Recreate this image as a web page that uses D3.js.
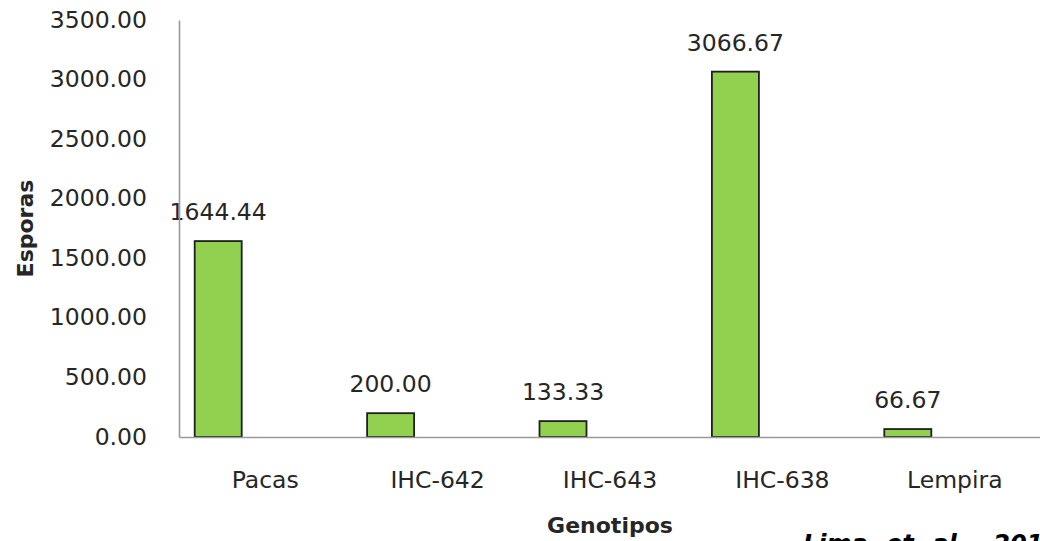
<!DOCTYPE html>
<html>
<head>
<meta charset="utf-8">
<script src="https://cdn.jsdelivr.net/npm/d3@7"></script>
<style>
  html, body { margin: 0; padding: 0; background: #ffffff; }
  svg { display: block; font-family: "DejaVu Sans", Verdana, sans-serif; }
</style>
</head>
<body>
<svg id="chart" width="1040" height="541"></svg>
<script>
// Spore counts per coffee genotype
const genotypes = ["Pacas", "IHC-642", "IHC-643", "IHC-638", "Lempira"];
const spores = [1644.44, 200.00, 133.33, 3066.67, 66.67];
const yTicks = [0, 500, 1000, 1500, 2000, 2500, 3000, 3500];
const yTitle = "Esporas";
const xTitle = "Genotipos";
const sourceNote = "Lima et al., 201";

const data = genotypes.map((g, i) => ({ genotype: g, value: spores[i] }));

const svg = d3.select("#chart");
const plotLeft = 179, plotRight = 1041, plotTop = 20, plotBottom = 437;

const x = d3.scaleBand().domain(genotypes).range([plotLeft, plotRight]).paddingInner(0).paddingOuter(0);
// each category holds three bar slots; only the first one is filled
const slot = d3.scaleBand().domain([0, 1, 2]).range([0, x.bandwidth()]).paddingInner(0).paddingOuter(0.334);
const y = d3.scaleLinear().domain([0, 3500]).range([plotBottom, plotTop]);

const textColor = "#262626";

// bars
svg.append("g").selectAll("rect")
  .data(data)
  .join("rect")
  .attr("x", d => x(d.genotype) + slot(0))
  .attr("y", d => y(d.value))
  .attr("width", slot.bandwidth())
  .attr("height", d => y(0) - y(d.value))
  .attr("fill", "#92D050")
  .attr("stroke", "#1f1f1f")
  .attr("stroke-width", 1.8);

// value labels
svg.append("g").selectAll("text")
  .data(data)
  .join("text")
  .attr("x", d => x(d.genotype) + slot(0) + slot.bandwidth() / 2)
  .attr("y", d => y(d.value) - 21)
  .attr("text-anchor", "middle")
  .attr("font-size", 23.5)
  .attr("fill", textColor)
  .text(d => d.value.toFixed(2));

// y axis
const yAxis = d3.axisLeft(y).tickValues(yTicks).tickSize(0).tickPadding(32)
  .tickFormat(d => d.toFixed(2));
const gy = svg.append("g").attr("transform", `translate(${plotLeft},0)`).call(yAxis);
gy.select(".domain").attr("stroke", "#9a9a9a").attr("stroke-width", 1.6);
gy.selectAll("text").attr("font-size", 23.5).attr("fill", textColor)
  .attr("font-family", "DejaVu Sans, sans-serif").attr("dy", "0.3em");

// x axis
const xAxis = d3.axisBottom(x).tickSize(0).tickPadding(34);
const gx = svg.append("g").attr("transform", `translate(0,${plotBottom})`).call(xAxis);
gx.select(".domain").attr("stroke", "#9a9a9a").attr("stroke-width", 1.6);
gx.selectAll("text").attr("font-size", 23.5).attr("fill", textColor)
  .attr("font-family", "DejaVu Sans, sans-serif").attr("dy", "0.71em");

// axis titles
svg.append("text")
  .attr("transform", `translate(33,${(plotTop + plotBottom) / 2}) rotate(-90)`)
  .attr("text-anchor", "middle")
  .attr("font-size", 22)
  .attr("font-weight", "bold")
  .attr("fill", textColor)
  .text(yTitle);

svg.append("text")
  .attr("x", (plotLeft + plotRight) / 2)
  .attr("y", 533)
  .attr("text-anchor", "middle")
  .attr("font-size", 22)
  .attr("font-weight", "bold")
  .attr("fill", textColor)
  .text(xTitle);

// source note, running off the bottom-right corner
svg.append("text")
  .attr("x", 803)
  .attr("y", 552)
  .attr("font-size", 24)
  .attr("font-weight", "bold")
  .attr("font-style", "italic")
  .attr("word-spacing", 10)
  .attr("fill", "#000")
  .text(sourceNote);
</script>
</body>
</html>
